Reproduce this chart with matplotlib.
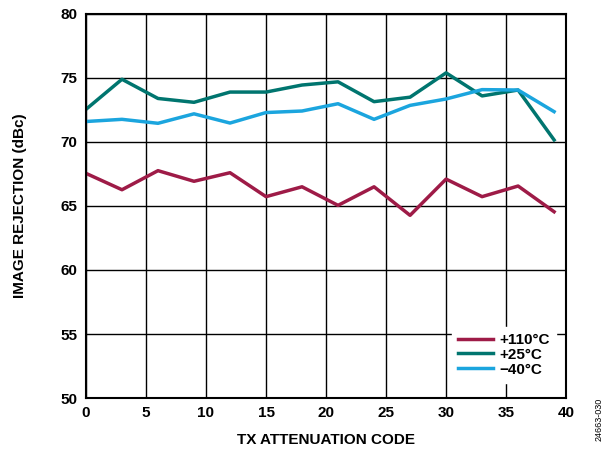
import matplotlib as mpl
mpl.use('Agg')
import matplotlib.pyplot as plt

plt.rcParams['font.family'] = ['Liberation Sans', 'DejaVu Sans']
plt.rcParams['font.weight'] = 'bold'

code = [0, 3, 6, 9, 12, 15, 18, 21, 24, 27, 30, 33, 36, 39]
t110 = [67.55, 66.27, 67.76, 66.93, 67.6, 65.73, 66.5, 65.05, 66.5, 64.27, 67.1, 65.73, 66.56, 64.55]
t25 = [72.55, 74.9, 73.4, 73.1, 73.9, 73.9, 74.45, 74.7, 73.15, 73.5, 75.4, 73.6, 74.06, 70.16]
tm40 = [71.6, 71.77, 71.46, 72.2, 71.48, 72.3, 72.42, 72.99, 71.77, 72.86, 73.36, 74.09, 74.06, 72.37]

fig = plt.figure(figsize=(6.14, 4.51), dpi=100)
ax = fig.add_axes([0.140, 0.1175, 0.782, 0.8515])

ax.plot(code, t110, color='#9E1B47', lw=2.5, label='+110°C')
ax.plot(code, t25, color='#00756F', lw=2.5, label='+25°C')
ax.plot(code, tm40, color='#1BA5DE', lw=2.5, label='\u221240°C')

ax.set_xlim(0, 40)
ax.set_ylim(50, 80)
ax.set_xticks(range(0, 41, 5))
ax.set_yticks(range(50, 81, 5))
ax.grid(True, color='black', lw=1)
ax.set_axisbelow(True)
ax.tick_params(length=0, labelsize=11, pad=6)
for s in ax.spines.values():
    s.set_linewidth(1.5)

ax.set_xlabel('TX ATTENUATION CODE', fontsize=11, fontweight='bold', labelpad=9)
ax.set_ylabel('IMAGE REJECTION (dBc)', fontsize=11, fontweight='bold', labelpad=24)

leg = ax.legend(loc='lower right', bbox_to_anchor=(0.995, 0.02), frameon=True,
                fancybox=False, framealpha=1, edgecolor='white', facecolor='white',
                fontsize=11, handlelength=2.3, handletextpad=0.4, labelspacing=0.05,
                borderpad=0.4)
for t in leg.get_texts():
    t.set_fontweight('bold')

fig.text(0.975, 0.07, '24663-030', rotation=90, fontsize=6.5, fontweight='normal',
         ha='center', va='center')

fig.savefig('out.png', dpi=100)
